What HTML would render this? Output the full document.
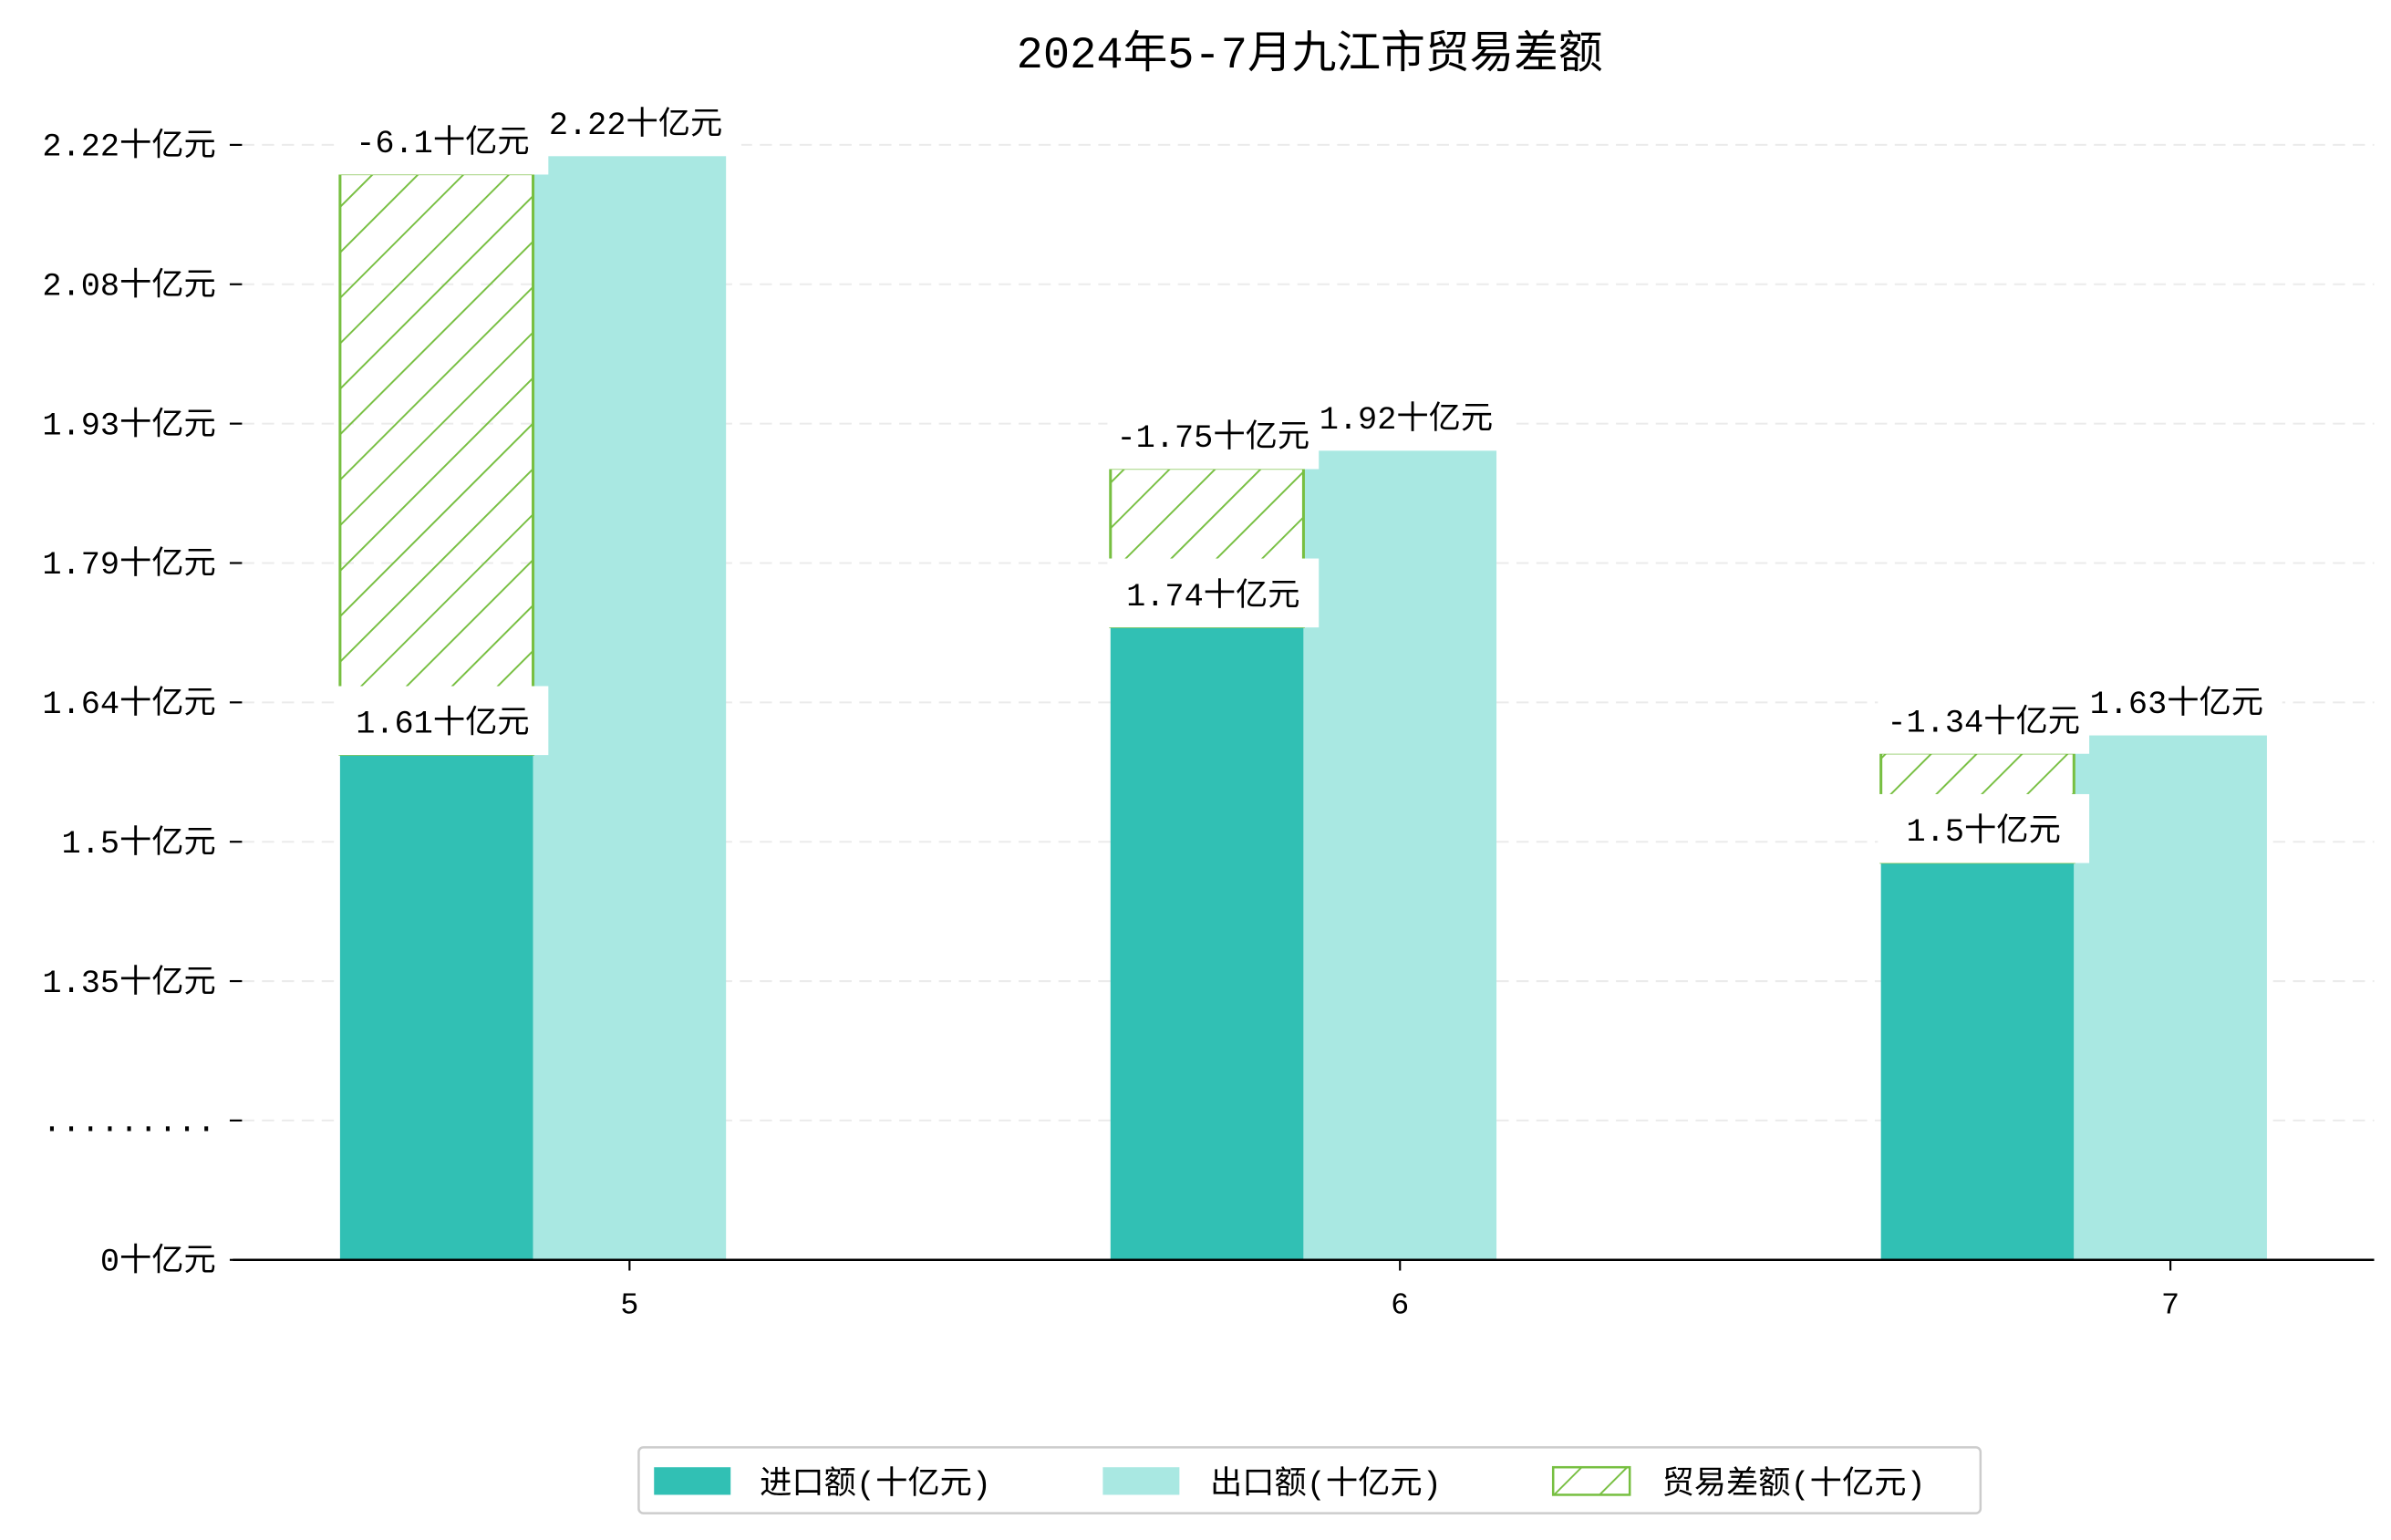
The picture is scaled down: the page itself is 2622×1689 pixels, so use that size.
<!DOCTYPE html>
<html><head><meta charset="utf-8"><style>
html,body{margin:0;padding:0;background:#fff;}
svg{display:block;}
text{font-family:"Liberation Mono","Noto Sans CJK SC",monospace;fill:#000;}
</style></head><body>
<svg id="chart" width="2622" height="1689" viewBox="0 0 1561 1005.5" preserveAspectRatio="none" xmlns="http://www.w3.org/2000/svg">
<defs>
<pattern id="hatch" patternUnits="userSpaceOnUse" width="21" height="21" patternTransform="rotate(45)">
<line x1="0" y1="0" x2="0" y2="21" stroke="#77bf41" stroke-width="2.3"/>
</pattern>
</defs>
<text x="855" y="44" text-anchor="middle" font-size="29">2024年5-7月九江市贸易差额</text>
<g id="grid"></g>
<g id="bars"></g>
<g id="labels"></g>
<line x1="152" y1="822.6" x2="1550" y2="822.6" stroke="#000" stroke-width="1.5"/>
<g>
<rect x="417" y="945" width="876" height="43" fill="#fff" stroke="#ccc" stroke-width="1.5" rx="3"/>
<rect x="427" y="958" width="50" height="18" fill="#31c0b4"/>
<text x="496" y="975" font-size="21">进口额(十亿元)</text>
<rect x="720" y="958" width="50" height="18" fill="#a9e8e2"/>
<text x="790" y="975" font-size="21">出口额(十亿元)</text>
<rect x="1014" y="958" width="50" height="18" fill="url(#hatch)" stroke="#77bf41" stroke-width="1.5"/>
<text x="1085" y="975" font-size="21">贸易差额(十亿元)</text>
</g>
</svg>
<script>
const months = ["5","6","7"];
const imports = [1.61,1.74,1.5];
const exports_ = [2.22,1.92,1.63];
const balanceLabels = ["-6.1","-1.75","-1.34"];
const exportLabels = ["2.22","1.92","1.63"];
const importLabels = ["1.61","1.74","1.5"];
const yTickLabels = ["0十亿元",".........","1.35十亿元","1.5十亿元","1.64十亿元","1.79十亿元","1.93十亿元","2.08十亿元","2.22十亿元"];

const NS="http://www.w3.org/2000/svg";
const BASE=822.6;
function yScale(v){ return 563 - (v-1.5)*641; }
function xBoundary(i){ return 348 + i*503; }
function tickY(i){ return BASE - i*91.0; }
const BW=126;
function mk(tag,attrs,parent,txt){const e=document.createElementNS(NS,tag);for(const k in attrs)e.setAttribute(k,attrs[k]);if(txt!==undefined)e.textContent=txt;parent.appendChild(e);return e;}
const grid=document.getElementById('grid'),bars=document.getElementById('bars'),labels=document.getElementById('labels');

yTickLabels.forEach((t,i)=>{
  const y=tickY(i);
  if(i>0){const g=mk('line',{x1:158,y1:y,x2:1550,y2:y,stroke:'#ebebeb','stroke-dasharray':'8,5','stroke-width':1.2},grid);
    
    }
  const tk=mk('line',{x1:150,y1:y,x2:158,y2:y,stroke:'#000','stroke-width':1.3},grid);
  
  
  const tl=mk('text',{x:141,y:y+7,'text-anchor':'end','font-size':21},grid,t);
  
  
});

months.forEach((m,i)=>{
  const b=xBoundary(i);
  const xi=b-BW, xe=b;
  const yi=yScale(imports[i]), ye=yScale(exports_[i]);
  const b1=mk('rect',{x:xi,y:yi,width:BW,height:BASE-yi,fill:'#31c0b4'},bars);
  
  
  const b2=mk('rect',{x:xe,y:ye,width:BW,height:BASE-ye,fill:'#a9e8e2'},bars);
  
  
  const top=Math.min(yi,ye+12), bot=Math.max(yi,ye+12);
  const h=mk('rect',{x:xi,y:top,width:BW,height:bot-top,fill:'url(#hatch)',stroke:'#77bf41','stroke-width':1.8},bars);
  
  
  const c=b+BW/2;
  const xt=mk('line',{x1:c,y1:BASE,x2:c,y2:BASE+7,stroke:'#000','stroke-width':1.3},bars);
  
  
  const xl=mk('text',{x:c,y:BASE+35,'text-anchor':'middle','font-size':20},bars,m);
  
  
  const defs=[[xe+BW/2+4,ye-22,exportLabels[i]+'十亿元','export-value-label'],[xi+BW/2+4,yi-22,importLabels[i]+'十亿元','import-value-label'],[xi+BW/2+4,ye-10,balanceLabels[i]+'十亿元','balance-value-label']];
  defs.forEach(d=>{
    const g=mk('g',{},labels);
    
    
    mk('rect',{x:d[0]-69,y:d[1]-22.5,width:138,height:45,fill:'#fff'},g);
    mk('text',{x:d[0],y:d[1]+8,'text-anchor':'middle','font-size':21},g,d[2]);
  });
});
</script>
</body></html>
